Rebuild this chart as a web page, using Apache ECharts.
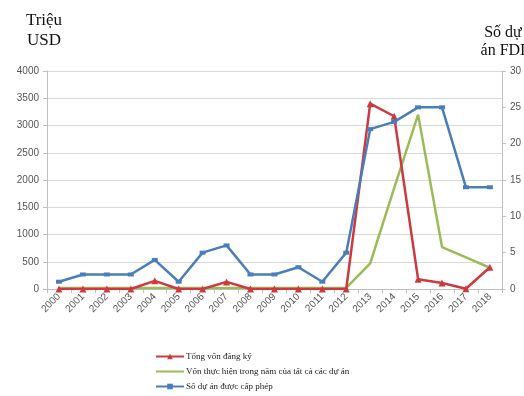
<!DOCTYPE html>
<html>
<head>
<meta charset="utf-8">
<script src="https://cdn.jsdelivr.net/npm/echarts@6/dist/echarts.min.js"></script>
<style>
  html, body { margin: 0; padding: 0; background: #fff; }
  #chart { width: 524px; height: 396px; }
</style>
</head>
<body>
<div id="chart"></div>
<script>
// Years on the category axis
const years = ['2000','2001','2002','2003','2004','2005','2006','2007','2008','2009',
               '2010','2011','2012','2013','2014','2015','2016','2017','2018'];

// Registered capital (million USD), left axis
const registeredCapital = [0, 0, 0, 0, 150, 0, 0, 130, 0, 0, 0, 0, 0, 3400, 3170, 180, 110, 5, 400];

// Disbursed capital of all projects in the year (million USD), left axis
const disbursedCapital = [20, 20, 20, 20, 20, 20, 20, 20, 20, 20, 20, 20, 20, 470, 1850, 3200, 770, 580, 390];

// Licensed FDI projects, right axis
const licensedProjects = [1, 2, 2, 2, 4, 1, 5, 6, 2, 2, 3, 1, 5, 22, 23, 25, 25, 14, 14];

// Axis tick ranges
const leftAxisMax = 4000, leftAxisStep = 500;
const rightAxisMax = 30, rightAxisStep = 5;

const serif = '"Liberation Serif", "Times New Roman", serif';
const sans = '"Liberation Sans", Arial, sans-serif';

const chart = echarts.init(document.getElementById('chart'), null, { renderer: 'canvas' });

const plainNumber = v => String(v);

chart.setOption({
  animation: false,
  backgroundColor: '#ffffff',
  graphic: [
    { type: 'text', x: 44, y: 11,
      style: { text: 'Triệu\nUSD', font: '17px ' + serif, fill: '#111', align: 'center', verticalAlign: 'top', lineHeight: 20 } },
    { type: 'text', x: 503, y: 24,
      style: { text: 'Số dự\nán FDI', font: '16px ' + serif, fill: '#111', align: 'center', verticalAlign: 'top', lineHeight: 18 } }
  ],
  grid: { left: 47, right: 20, top: 71, bottom: 107 },
  legend: {
    orient: 'vertical',
    left: 150, top: 347,
    itemWidth: 28, itemHeight: 7, itemGap: 6,
    textStyle: { fontFamily: serif, fontSize: 9, color: '#222', padding: [0, 0, 0, -3] },
    data: [
      { name: 'Tổng vốn đăng ký' },
      { name: 'Vốn thực hiện trong năm của tất cả các dự án', itemStyle: { opacity: 0 } },
      { name: 'Số dự án được cấp phép' }
    ]
  },
  xAxis: {
    type: 'category',
    data: years,
    boundaryGap: true,
    axisLine: { lineStyle: { color: '#bfbfbf' } },
    axisTick: { show: true, alignWithLabel: false, length: 4, lineStyle: { color: '#bfbfbf' } },
    axisLabel: { rotate: 45, fontFamily: sans, fontSize: 10, color: '#555', margin: 6, interval: 0 }
  },
  yAxis: [
    {
      type: 'value', min: 0, max: leftAxisMax, interval: leftAxisStep,
      axisLine: { show: true, lineStyle: { color: '#bfbfbf' } },
      axisTick: { show: true, length: 4, lineStyle: { color: '#bfbfbf' } },
      axisLabel: { fontFamily: sans, fontSize: 10, color: '#555', margin: 8, formatter: plainNumber },
      splitLine: { lineStyle: { color: '#d9d9d9' } }
    },
    {
      type: 'value', min: 0, max: rightAxisMax, interval: rightAxisStep,
      position: 'right',
      axisLine: { show: true, lineStyle: { color: '#bfbfbf' } },
      axisTick: { show: true, length: 4, lineStyle: { color: '#bfbfbf' } },
      axisLabel: { fontFamily: sans, fontSize: 10, color: '#555', margin: 8, formatter: plainNumber },
      splitLine: { show: false }
    }
  ],
  series: [
    {
      name: 'Tổng vốn đăng ký',
      type: 'line', yAxisIndex: 0, data: registeredCapital,
      color: '#cc3a3f',
      lineStyle: { width: 2.5, color: '#cc3a3f' },
      symbol: 'triangle', symbolSize: 7,
      itemStyle: { color: '#cc3a3f' },
      z: 3
    },
    {
      name: 'Vốn thực hiện trong năm của tất cả các dự án',
      type: 'line', yAxisIndex: 0, data: disbursedCapital,
      color: '#9bbb59',
      lineStyle: { width: 2.5, color: '#9bbb59' },
      symbol: 'none',
      itemStyle: { color: '#9bbb59' },
      z: 2
    },
    {
      name: 'Số dự án được cấp phép',
      type: 'line', yAxisIndex: 1, data: licensedProjects,
      color: '#4a7ebb',
      lineStyle: { width: 2.5, color: '#4a7ebb' },
      symbol: 'rect', symbolSize: [6, 4],
      itemStyle: { color: '#4a7ebb' },
      z: 4
    }
  ]
});
</script>
</body>
</html>
